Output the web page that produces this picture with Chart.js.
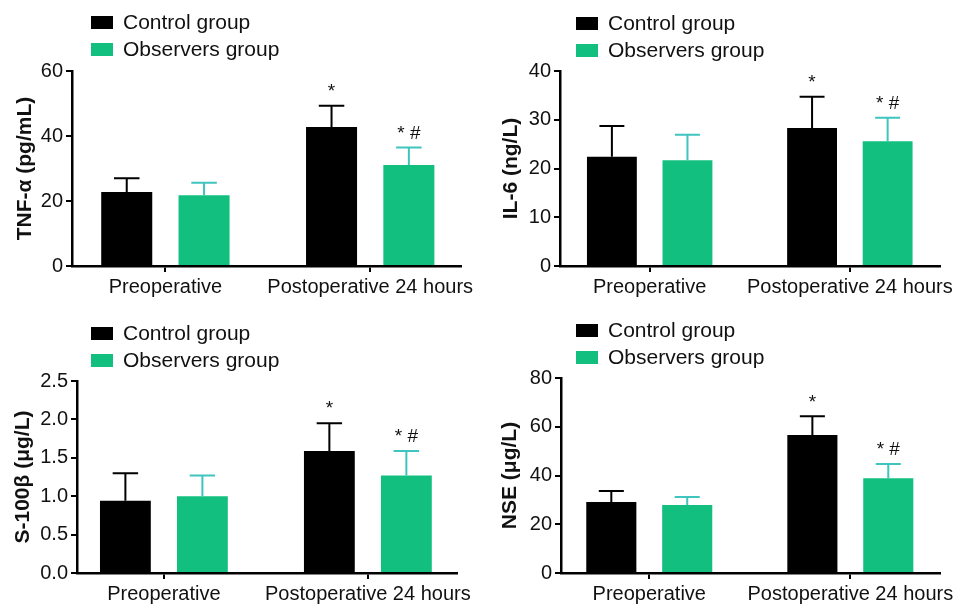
<!DOCTYPE html>
<html lang="en">
  <head>
    <meta charset="UTF-8" />
    <title>Serum markers</title>
    <style>
      body {
        margin: 0;
        background: #fff;
      }
      .wrap {
        position: relative;
        width: 959px;
        height: 604px;
      }
      .panel {
        position: absolute;
      }
    </style>
  </head>
  <body>
    <div class="wrap">
      <div class="panel" style="left: 0; top: 0"><canvas id="c1" width="480" height="300"></canvas></div>
      <div class="panel" style="left: 480px; top: 0"><canvas id="c2" width="479" height="300"></canvas></div>
      <div class="panel" style="left: 0; top: 300px"><canvas id="c3" width="480" height="304"></canvas></div>
      <div class="panel" style="left: 480px; top: 300px"><canvas id="c4" width="479" height="304"></canvas></div>
    </div>

    <script src="https://cdn.jsdelivr.net/npm/chart.js@4/dist/chart.umd.min.js"></script>
    <script>
      // data
      const groups = ["Preoperative", "Postoperative 24 hours"];
      const seriesNames = ["Control group", "Observers group"];
      const marksControl = ["", "*"];
      const marksObservers = ["", "* #"];

      const tnfControl = [22.8, 42.8];
      const tnfControlSd = [4.2, 6.5];
      const tnfObservers = [21.8, 31.1];
      const tnfObserversSd = [3.8, 5.4];

      const il6Control = [22.4, 28.3];
      const il6ControlSd = [6.3, 6.4];
      const il6Observers = [21.7, 25.6];
      const il6ObserversSd = [5.2, 4.8];

      const s100Control = [0.94, 1.59];
      const s100ControlSd = [0.36, 0.36];
      const s100Observers = [1.0, 1.27];
      const s100ObserversSd = [0.27, 0.32];

      const nseControl = [29.1, 56.6];
      const nseControlSd = [4.5, 7.7];
      const nseObservers = [27.9, 38.9];
      const nseObserversSd = [3.3, 5.8];

      const FONT = "'Liberation Sans', Arial, sans-serif";
      const BLACK = "#000000";
      const GREEN = "#12bf7f";
      const GREEN_ERR = "#3fc4bf";

      // error bars, star marks and the two-row legend
      const extras = {
        id: "extras",
        afterDatasetsDraw(chart) {
          const ctx = chart.ctx;
          const y = chart.scales.y;
          chart.data.datasets.forEach((ds, i) => {
            const meta = chart.getDatasetMeta(i);
            meta.data.forEach((bar, j) => {
              const v = ds.data[j].y;
              const top = y.getPixelForValue(v + ds.sd[j]);
              const half = bar.width / 4;
              ctx.save();
              ctx.strokeStyle = ds.errColor;
              ctx.lineWidth = 2;
              ctx.beginPath();
              ctx.moveTo(bar.x, bar.y);
              ctx.lineTo(bar.x, top);
              ctx.moveTo(bar.x - half, top);
              ctx.lineTo(bar.x + half, top);
              ctx.stroke();
              if (ds.marks[j]) {
                ctx.fillStyle = "#111";
                ctx.font = "19px " + FONT;
                ctx.textAlign = "center";
                ctx.textBaseline = "middle";
                ctx.fillText(ds.marks[j], bar.x, top - 14);
              }
              ctx.restore();
            });
          });
        },
        afterDraw(chart, args, opts) {
          const ctx = chart.ctx;
          chart.data.datasets.forEach((ds, i) => {
            const yy = opts.y + i * 27;
            ctx.save();
            ctx.fillStyle = ds.backgroundColor;
            ctx.fillRect(opts.x, yy, 22, 13);
            ctx.fillStyle = "#111";
            ctx.font = "21px " + FONT;
            ctx.textBaseline = "middle";
            ctx.fillText(ds.label, opts.x + 32, yy + 7);
            ctx.restore();
          });
        },
      };

      function makePanel(id, p) {
        const el = document.getElementById(id);
        const W = el.width;
        const H = el.height;
        return new Chart(el, {
          type: "bar",
          data: {
            datasets: [
              {
                label: seriesNames[0],
                data: p.control.map((v, i) => ({ x: i, y: v })),
                sd: p.controlSd,
                marks: marksControl,
                backgroundColor: BLACK,
                errColor: BLACK,
              },
              {
                label: seriesNames[1],
                data: p.observers.map((v, i) => ({ x: i, y: v })),
                sd: p.observersSd,
                marks: marksObservers,
                backgroundColor: GREEN,
                errColor: GREEN_ERR,
              },
            ],
          },
          options: {
            responsive: false,
            animation: false,
            layout: {
              padding: { left: 0, top: p.top, right: W - p.right, bottom: 0 },
            },
            datasets: {
              bar: { categoryPercentage: 0.755, barPercentage: 0.66, borderWidth: 0 },
            },
            plugins: {
              legend: { display: false },
              tooltip: { enabled: false },
              extras: { x: p.legX, y: p.legY },
            },
            scales: {
              x: {
                type: "linear",
                offset: false,
                min: p.xMin,
                max: p.xMax,
                afterBuildTicks: (s) => {
                  s.ticks = groups.map((g, i) => ({ value: i }));
                },
                afterFit: (s) => {
                  s.height = H - p.bottom;
                },
                ticks: {
                  autoSkip: false,
                  maxRotation: 0,
                  padding: 3,
                  color: "#111",
                  font: { family: FONT, size: 20 },
                  callback: (v) => groups[v],
                },
                grid: {
                  offset: false,
                  drawOnChartArea: false,
                  tickLength: 6,
                  color: BLACK,
                  lineWidth: 2,
                },
                border: { color: BLACK, width: 2.5 },
              },
              y: {
                min: 0,
                max: p.yMax,
                afterFit: (s) => {
                  s.width = p.left;
                },
                ticks: {
                  stepSize: p.step,
                  padding: 3,
                  color: "#111",
                  font: { family: FONT, size: 20 },
                  callback: (v) => (p.dec ? v.toFixed(p.dec) : v),
                },
                grid: {
                  drawOnChartArea: false,
                  tickLength: 6,
                  color: BLACK,
                  lineWidth: 2,
                },
                border: { color: BLACK, width: 2.5 },
                title: {
                  display: true,
                  text: p.title,
                  color: "#111",
                  font: { family: FONT, size: 21, weight: "bold" },
                  padding: { top: p.titleX - 12.6, bottom: 0 },
                },
              },
            },
          },
          plugins: [extras],
        });
      }

      makePanel("c1", {
        control: tnfControl, controlSd: tnfControlSd,
        observers: tnfObservers, observersSd: tnfObserversSd,
        title: "TNF-α (pg/mL)", yMax: 60, step: 20, dec: 0,
        left: 72, right: 463, top: 71, bottom: 266,
        xMin: -0.456, xMax: 1.442, titleX: 25, legX: 91, legY: 16,
      });
      makePanel("c2", {
        control: il6Control, controlSd: il6ControlSd,
        observers: il6Observers, observersSd: il6ObserversSd,
        title: "IL-6 (ng/L)", yMax: 40, step: 10, dec: 0,
        left: 80, right: 465, top: 71, bottom: 266,
        xMin: -0.448, xMax: 1.448, titleX: 31, legX: 96, legY: 17,
      });
      makePanel("c3", {
        control: s100Control, controlSd: s100ControlSd,
        observers: s100Observers, observersSd: s100ObserversSd,
        title: "S-100β (μg/L)", yMax: 2.5, step: 0.5, dec: 1,
        left: 77, right: 457, top: 81, bottom: 273,
        xMin: -0.426, xMax: 1.437, titleX: 23, legX: 91, legY: 27,
      });
      makePanel("c4", {
        control: nseControl, controlSd: nseControlSd,
        observers: nseObservers, observersSd: nseObserversSd,
        title: "NSE (μg/L)", yMax: 80, step: 20, dec: 0,
        left: 81, right: 467, top: 78, bottom: 273,
        xMin: -0.439, xMax: 1.444, titleX: 30, legX: 96, legY: 24,
      });
    </script>
  </body>
</html>
